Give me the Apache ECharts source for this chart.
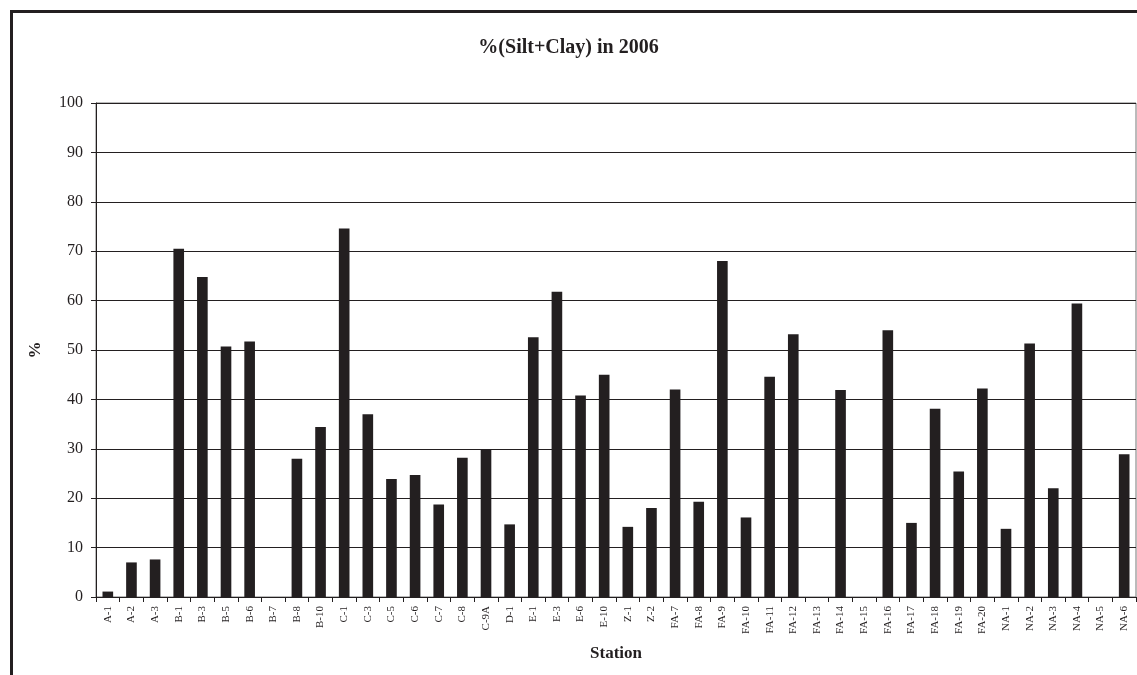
<!DOCTYPE html>
<html>
<head>
<meta charset="utf-8">
<script src="https://cdn.jsdelivr.net/npm/echarts@6/dist/echarts.min.js"></script>
<style>html,body{margin:0;padding:0;background:#fff}#c{width:1137px;height:675px}</style>
</head>
<body>
<div id="c"></div>
<script>
const stations = ['A-1','A-2','A-3','B-1','B-3','B-5','B-6','B-7','B-8','B-10','C-1','C-3','C-5','C-6','C-7','C-8','C-9A','D-1','E-1','E-3','E-6','E-10','Z-1','Z-2','FA-7','FA-8','FA-9','FA-10','FA-11','FA-12','FA-13','FA-14','FA-15','FA-16','FA-17','FA-18','FA-19','FA-20','NA-1','NA-2','NA-3','NA-4','NA-5','NA-6'];
const siltClay = [1.1,7.0,7.6,70.5,64.8,50.7,51.7,0,28.0,34.4,74.6,37.0,23.9,24.7,18.7,28.2,29.8,14.7,52.6,61.8,40.8,45.0,14.2,18.0,42.0,19.3,68.0,16.1,44.6,53.2,0,41.9,0,54.0,15.0,38.1,25.4,42.2,13.8,51.3,22.0,59.4,0,28.9];
const titleText = '%(Silt+Clay) in 2006';
const xName = 'Station';
const yName = '%';

const ink = '#231f20';
const serif = '"Liberation Serif", "Times New Roman", serif';
const chart = echarts.init(document.getElementById('c'));
chart.setOption({
  animation: false,
  backgroundColor: '#fff',
  title: {
    text: titleText, left: 'center', top: 33,
    textStyle: {fontFamily: serif, fontWeight: 'bold', fontSize: 20, color: ink}
  },
  graphic: [{
    type: 'rect', silent: true,
    shape: {x: 11.5, y: 11.5, width: 1140, height: 700},
    style: {fill: 'none', stroke: ink, lineWidth: 3}
  }],
  grid: {left: 96, right: 1, top: 103, bottom: 78, show: true, borderColor: '#777', borderWidth: 1, backgroundColor: 'transparent'},
  xAxis: {
    type: 'category', data: stations,
    name: xName, nameLocation: 'middle', nameGap: 48,
    nameTextStyle: {fontFamily: serif, fontWeight: 'bold', fontSize: 17, color: ink},
    axisLine: {lineStyle: {color: ink, width: 1}},
    axisTick: {show: true, alignWithLabel: false, length: 5, lineStyle: {color: ink}},
    axisLabel: {rotate: 90, interval: 0, fontFamily: serif, fontSize: 11, color: ink, margin: 9}
  },
  yAxis: {
    type: 'value', min: 0, max: 100, interval: 10,
    name: yName, nameLocation: 'middle', nameGap: 52, nameRotate: 90,
    nameTextStyle: {fontFamily: serif, fontWeight: 'bold', fontSize: 17, color: ink},
    axisLine: {show: true, lineStyle: {color: ink, width: 1}},
    axisTick: {show: true, length: 5, lineStyle: {color: ink}},
    axisLabel: {fontFamily: serif, fontSize: 16, color: ink, margin: 13},
    splitLine: {show: true, lineStyle: {color: ink, width: 1}}
  },
  series: [{
    type: 'bar', data: siltClay, barWidth: '45%',
    itemStyle: {color: ink}
  }]
});
</script>
</body>
</html>
